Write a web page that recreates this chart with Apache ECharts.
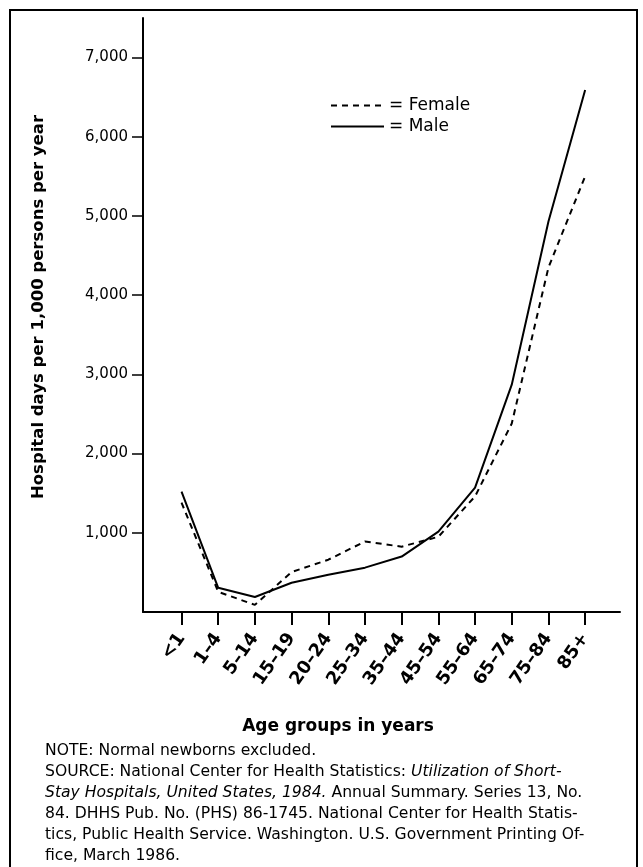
<!DOCTYPE html>
<html>
<head>
<meta charset="utf-8">
<script src="https://cdn.jsdelivr.net/npm/echarts@6/dist/echarts.min.js"></script>
<style>
	html, body { margin: 0; padding: 0; background: #fff; }
	#chart { width: 643px; height: 867px; }
</style>
</head>
<body>
<div id="chart"></div>
<script>
	// age groups along the bottom
	var ages = ['<1', '1–4', '5–14', '15–19', '20–24', '25–34', '35–44', '45–54', '55–64', '65–74', '75–84', '85+'];
	// hospital days per 1,000 persons per year
	var male = [1520, 305, 190, 370, 470, 560, 700, 1015, 1570, 2870, 4930, 6590];
	var female = [1380, 255, 90, 505, 660, 890, 825, 950, 1460, 2380, 4350, 5500];
	var yTicks = [1000, 2000, 3000, 4000, 5000, 6000, 7000];

	var font = '"DejaVu Sans", sans-serif';
	var xIdx = ages.map(function(a, i) { return i; });

	function toPoints(arr) {
		return arr.map(function(v, i) { return [i, v]; });
	}

	var myChart = echarts.init(document.getElementById('chart'));
	var option = {
		animation: false,
		backgroundColor: '#fff',
		grid: { left: 143, right: 23, top: 18, bottom: 255 },
		legend: {
			orient: 'vertical',
			left: 325,
			top: 92,
			itemWidth: 53,
			itemHeight: 2,
			itemGap: 4,
			itemStyle: { opacity: 0 },
			textStyle: { fontFamily: font, fontSize: 17, color: '#000' },
			formatter: function(name) { return '= ' + name; },
			data: ['Female', 'Male']
		},
		xAxis: {
			type: 'value',
			min: -1.05,
			max: 11.95,
			splitLine: { show: false },
			axisLine: { onZero: false, lineStyle: { color: '#000', width: 2 } },
			axisTick: { customValues: xIdx, length: 13, lineStyle: { color: '#000', width: 2 } },
			axisLabel: {
				customValues: xIdx,
				rotate: 55,
				margin: 23,
				fontFamily: font,
				fontSize: 18,
				fontWeight: 'bold',
				color: '#000',
				formatter: function(v) { return ages[Math.round(v)]; }
			}
		},
		yAxis: {
			type: 'value',
			min: 0,
			max: 7500,
			splitLine: { show: false },
			axisLine: { show: true, onZero: false, lineStyle: { color: '#000', width: 2 } },
			axisTick: { show: true, customValues: yTicks, length: 11, lineStyle: { color: '#000', width: 1.5 } },
			axisLabel: {
				customValues: yTicks,
				margin: 15,
				fontFamily: font,
				fontSize: 15,
				color: '#000',
				formatter: function(v) { return v.toLocaleString('en-US'); }
			}
		},
		series: [{
			name: 'Female',
			type: 'line',
			symbol: 'none',
			lineStyle: { color: '#000', width: 2, type: [6, 5] },
			itemStyle: { color: '#000' },
			data: toPoints(female)
		}, {
			name: 'Male',
			type: 'line',
			symbol: 'none',
			lineStyle: { color: '#000', width: 2, type: 'solid' },
			itemStyle: { color: '#000' },
			data: toPoints(male)
		}],
		graphic: [{
			type: 'rect',
			shape: { x: 10, y: 10, width: 627, height: 880 },
			style: { fill: 'none', stroke: '#000', lineWidth: 2 }
		}, {
			type: 'text',
			x: 39,
			y: 307,
			rotation: Math.PI / 2,
			style: {
				text: 'Hospital days per 1,000 persons per year',
				fontFamily: font, fontSize: 16.5, fontWeight: 'bold', fill: '#000',
				align: 'center', verticalAlign: 'middle'
			}
		}, {
			type: 'text',
			x: 338,
			y: 727,
			style: {
				text: 'Age groups in years',
				fontFamily: font, fontSize: 17, fontWeight: 'bold', fill: '#000',
				align: 'center', verticalAlign: 'middle'
			}
		}, {
			type: 'text',
			x: 45,
			y: 740,
			style: {
				text: 'NOTE: Normal newborns excluded.\n' +
					'SOURCE: National Center for Health Statistics: {i|Utilization of Short-}\n' +
					'{i|Stay Hospitals, United States, 1984.} Annual Summary. Series 13, No.\n' +
					'84. DHHS Pub. No. (PHS) 86-1745. National Center for Health Statis-\n' +
					'tics, Public Health Service. Washington. U.S. Government Printing Of-\n' +
					'fice, March 1986.',
				fontFamily: font, fontSize: 15.6, fill: '#000', lineHeight: 21,
				rich: {
					i: { fontFamily: font, fontSize: 15.6, fontStyle: 'italic', fill: '#000', lineHeight: 21 }
				}
			}
		}]
	};
	myChart.setOption(option);
</script>
</body>
</html>
